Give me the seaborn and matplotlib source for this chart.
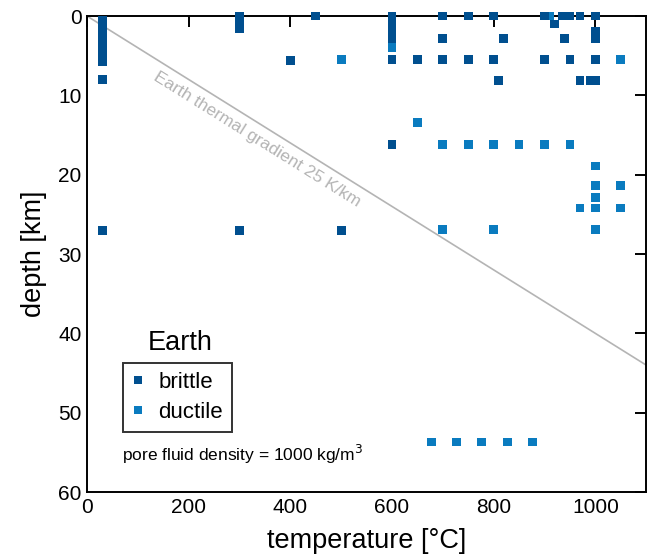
import matplotlib
matplotlib.use("Agg")
import matplotlib.pyplot as plt
import seaborn as sns
import pandas as pd

# ---- data ----
brittle_T = [30, 30, 30, 30, 30, 30, 30, 30, 30, 30, 30, 30, 30, 30, 30, 30,
             300, 300, 300, 300, 300,
             400, 450, 500,
             600, 600, 600, 600, 600, 600, 600, 600,
             650, 700, 700, 700, 750, 750, 800, 800, 810, 820,
             900, 900, 920, 935, 940, 950, 950, 970, 970, 990,
             1000, 1000, 1000, 1000, 1000, 1000]
brittle_depth = [0.6, 1.0, 1.4, 1.8, 2.2, 2.6, 3.0, 3.4, 3.8, 4.2, 4.6, 5.0, 5.4, 5.8, 8.0, 27.0,
                 0.0, 0.5, 1.0, 1.6, 27.0,
                 5.6, 0.0, 27.0,
                 0.0, 0.5, 1.0, 1.5, 2.0, 2.8, 5.5, 16.2,
                 5.5, 0.0, 2.8, 5.5, 0.0, 5.5, 0.0, 5.5, 8.1, 2.8,
                 0.0, 5.5, 1.0, 0.0, 2.8, 0.0, 5.5, 0.0, 8.1, 8.1,
                 0.0, 2.0, 2.4, 2.8, 5.5, 8.1]

ductile_T = [500, 600, 600, 600, 600, 650, 700, 700, 700, 750,
             800, 800, 800, 800, 850, 900, 900, 900, 910, 950, 970,
             1000, 1000, 1000, 1000, 1000, 1050, 1050, 1050,
             678, 727, 776, 827, 876]
ductile_depth = [5.5, 2.8, 4.0, 5.5, 16.2, 13.4, 5.5, 16.2, 26.9, 16.2,
                 0.0, 5.5, 16.2, 26.9, 16.2, 0.0, 5.5, 16.2, 0.0, 16.2, 24.2,
                 18.9, 21.4, 22.9, 24.2, 26.9, 5.5, 21.4, 24.2,
                 53.7, 53.7, 53.7, 53.7, 53.7]

gradient_T = [0, 1100]
gradient_depth = [0, 44]

x_ticks = [0, 200, 400, 600, 800, 1000]
y_ticks = [0, 10, 20, 30, 40, 50, 60]

df = pd.concat([
    pd.DataFrame({"T": ductile_T, "depth": ductile_depth, "type": "ductile"}),
    pd.DataFrame({"T": brittle_T, "depth": brittle_depth, "type": "brittle"}),
], ignore_index=True)

sns.set_theme(style="white")
plt.rcParams["font.family"] = ["Liberation Sans", "DejaVu Sans"]
plt.rcParams["text.color"] = "black"
plt.rcParams["axes.labelcolor"] = "black"
plt.rcParams["xtick.color"] = "black"
plt.rcParams["ytick.color"] = "black"

fig = plt.figure(figsize=(6.54, 5.6), dpi=100)
ax = fig.add_axes([0.133, 0.1214, 0.855, 0.85])

sns.lineplot(x=gradient_T, y=gradient_depth, ax=ax, color="#b4b4b4", linewidth=1.2, zorder=1)

palette = {"brittle": "#004f8f", "ductile": "#0a7bbf"}
sns.scatterplot(data=df, x="T", y="depth", hue="type", hue_order=["brittle", "ductile"],
                palette=palette, marker="s", s=40, linewidth=0, ax=ax, zorder=3)
for coll in ax.collections:
    coll.set_clip_on(False)

ax.set_xlim(0, 1100)
ax.set_ylim(60, 0)
ax.set_xticks(x_ticks)
ax.set_yticks(y_ticks)
ax.tick_params(direction="in", length=8, width=1.4, top=True, right=True,
               labeltop=False, labelright=False, labelsize=15, pad=4)
for sp in ax.spines.values():
    sp.set_linewidth(1.4)
    sp.set_color("black")

ax.set_xlabel("temperature [°C]", fontsize=19.5, labelpad=8)
ax.set_ylabel("depth [km]", fontsize=19.5, labelpad=8)

ax.text(335, 15.6, "Earth thermal gradient 25 K/km", rotation=-32, rotation_mode="anchor",
        ha="center", va="center", color="#b4b4b4", fontsize=12.5)

handles, labels = ax.get_legend_handles_labels()
leg = ax.legend(handles, labels, loc="upper left", bbox_to_anchor=(0.064, 0.271),
                borderaxespad=0, frameon=True, fancybox=False, edgecolor="black",
                fontsize=16, markerscale=0.8, handlelength=0.6, handletextpad=0.6,
                labelspacing=0.4, borderpad=0.4)
leg.get_frame().set_linewidth(1.4)

ax.text(0.166, 0.313, "Earth", transform=ax.transAxes, ha="center", va="center", fontsize=19.5)
ax.text(0.063, 0.078, "pore fluid density = 1000 kg/m$^3$", transform=ax.transAxes,
        ha="left", va="center", fontsize=12.5)

fig.savefig("out.png", dpi=100)
